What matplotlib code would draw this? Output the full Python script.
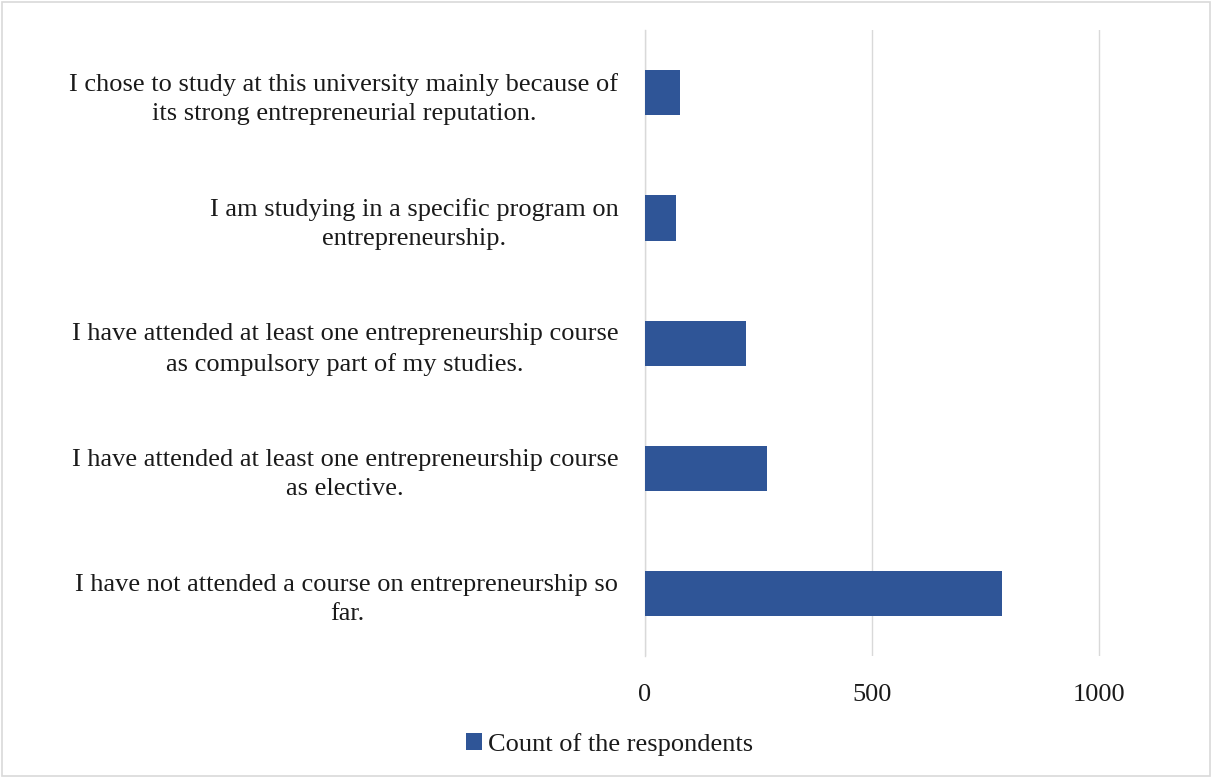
import matplotlib
matplotlib.use("Agg")
import matplotlib.pyplot as plt
from matplotlib.patches import Rectangle

categories = [
    "I have not attended a course on entrepreneurship so\nfar.",
    "I have attended at least one entrepreneurship course\nas elective.",
    "I have attended at least one entrepreneurship course\nas compulsory part of my studies.",
    "I am studying in a specific program on\nentrepreneurship.",
    "I chose to study at this university mainly because of\nits strong entrepreneurial reputation.",
]
counts = [787, 269, 222, 68, 77]
x_ticks = [0, 500, 1000]
series_name = "Count of the respondents"

plt.rcParams['font.family'] = ['Liberation Serif', 'DejaVu Serif']

fig = plt.figure(figsize=(12.12, 7.78), dpi=100)
ax = fig.add_axes([0.532, 0.157, 0.450, 0.804])

bar_color = "#2F5597"
ax.barh(range(len(categories)), counts, height=0.36, color=bar_color,
        label=series_name, zorder=3)

ax.set_xlim(0, 1200)
ax.set_ylim(-0.5, len(categories) - 0.5)
ax.set_xticks(x_ticks)
ax.set_xticklabels([str(t) for t in x_ticks], fontsize=19, color="#1a1a1a")
ax.set_yticks(range(len(categories)))
ax.set_yticklabels(categories, fontsize=19, color="#1a1a1a",
                   multialignment="center", linespacing=1.42)
ax.tick_params(axis='both', length=0)
ax.tick_params(axis='y', pad=19)
ax.tick_params(axis='x', pad=20)
ax.grid(axis='x', color="#D9D9D9", linewidth=1.0, zorder=0)
for s in ['top', 'right', 'bottom']:
    ax.spines[s].set_visible(False)
ax.spines['left'].set_color("#D9D9D9")
ax.spines['left'].set_linewidth(1.0)

leg = fig.legend(loc='center', bbox_to_anchor=(0.503, 0.043), frameon=False,
                 fontsize=19, handlelength=0.6, handleheight=0.6,
                 handletextpad=0.25)
for t in leg.get_texts():
    t.set_color("#1a1a1a")

fig.patches.append(Rectangle((0.002, 0.003), 0.996, 0.994, transform=fig.transFigure,
                             fill=False, edgecolor="#D9D9D9", linewidth=1.2))

fig.savefig("out.png", dpi=100)
